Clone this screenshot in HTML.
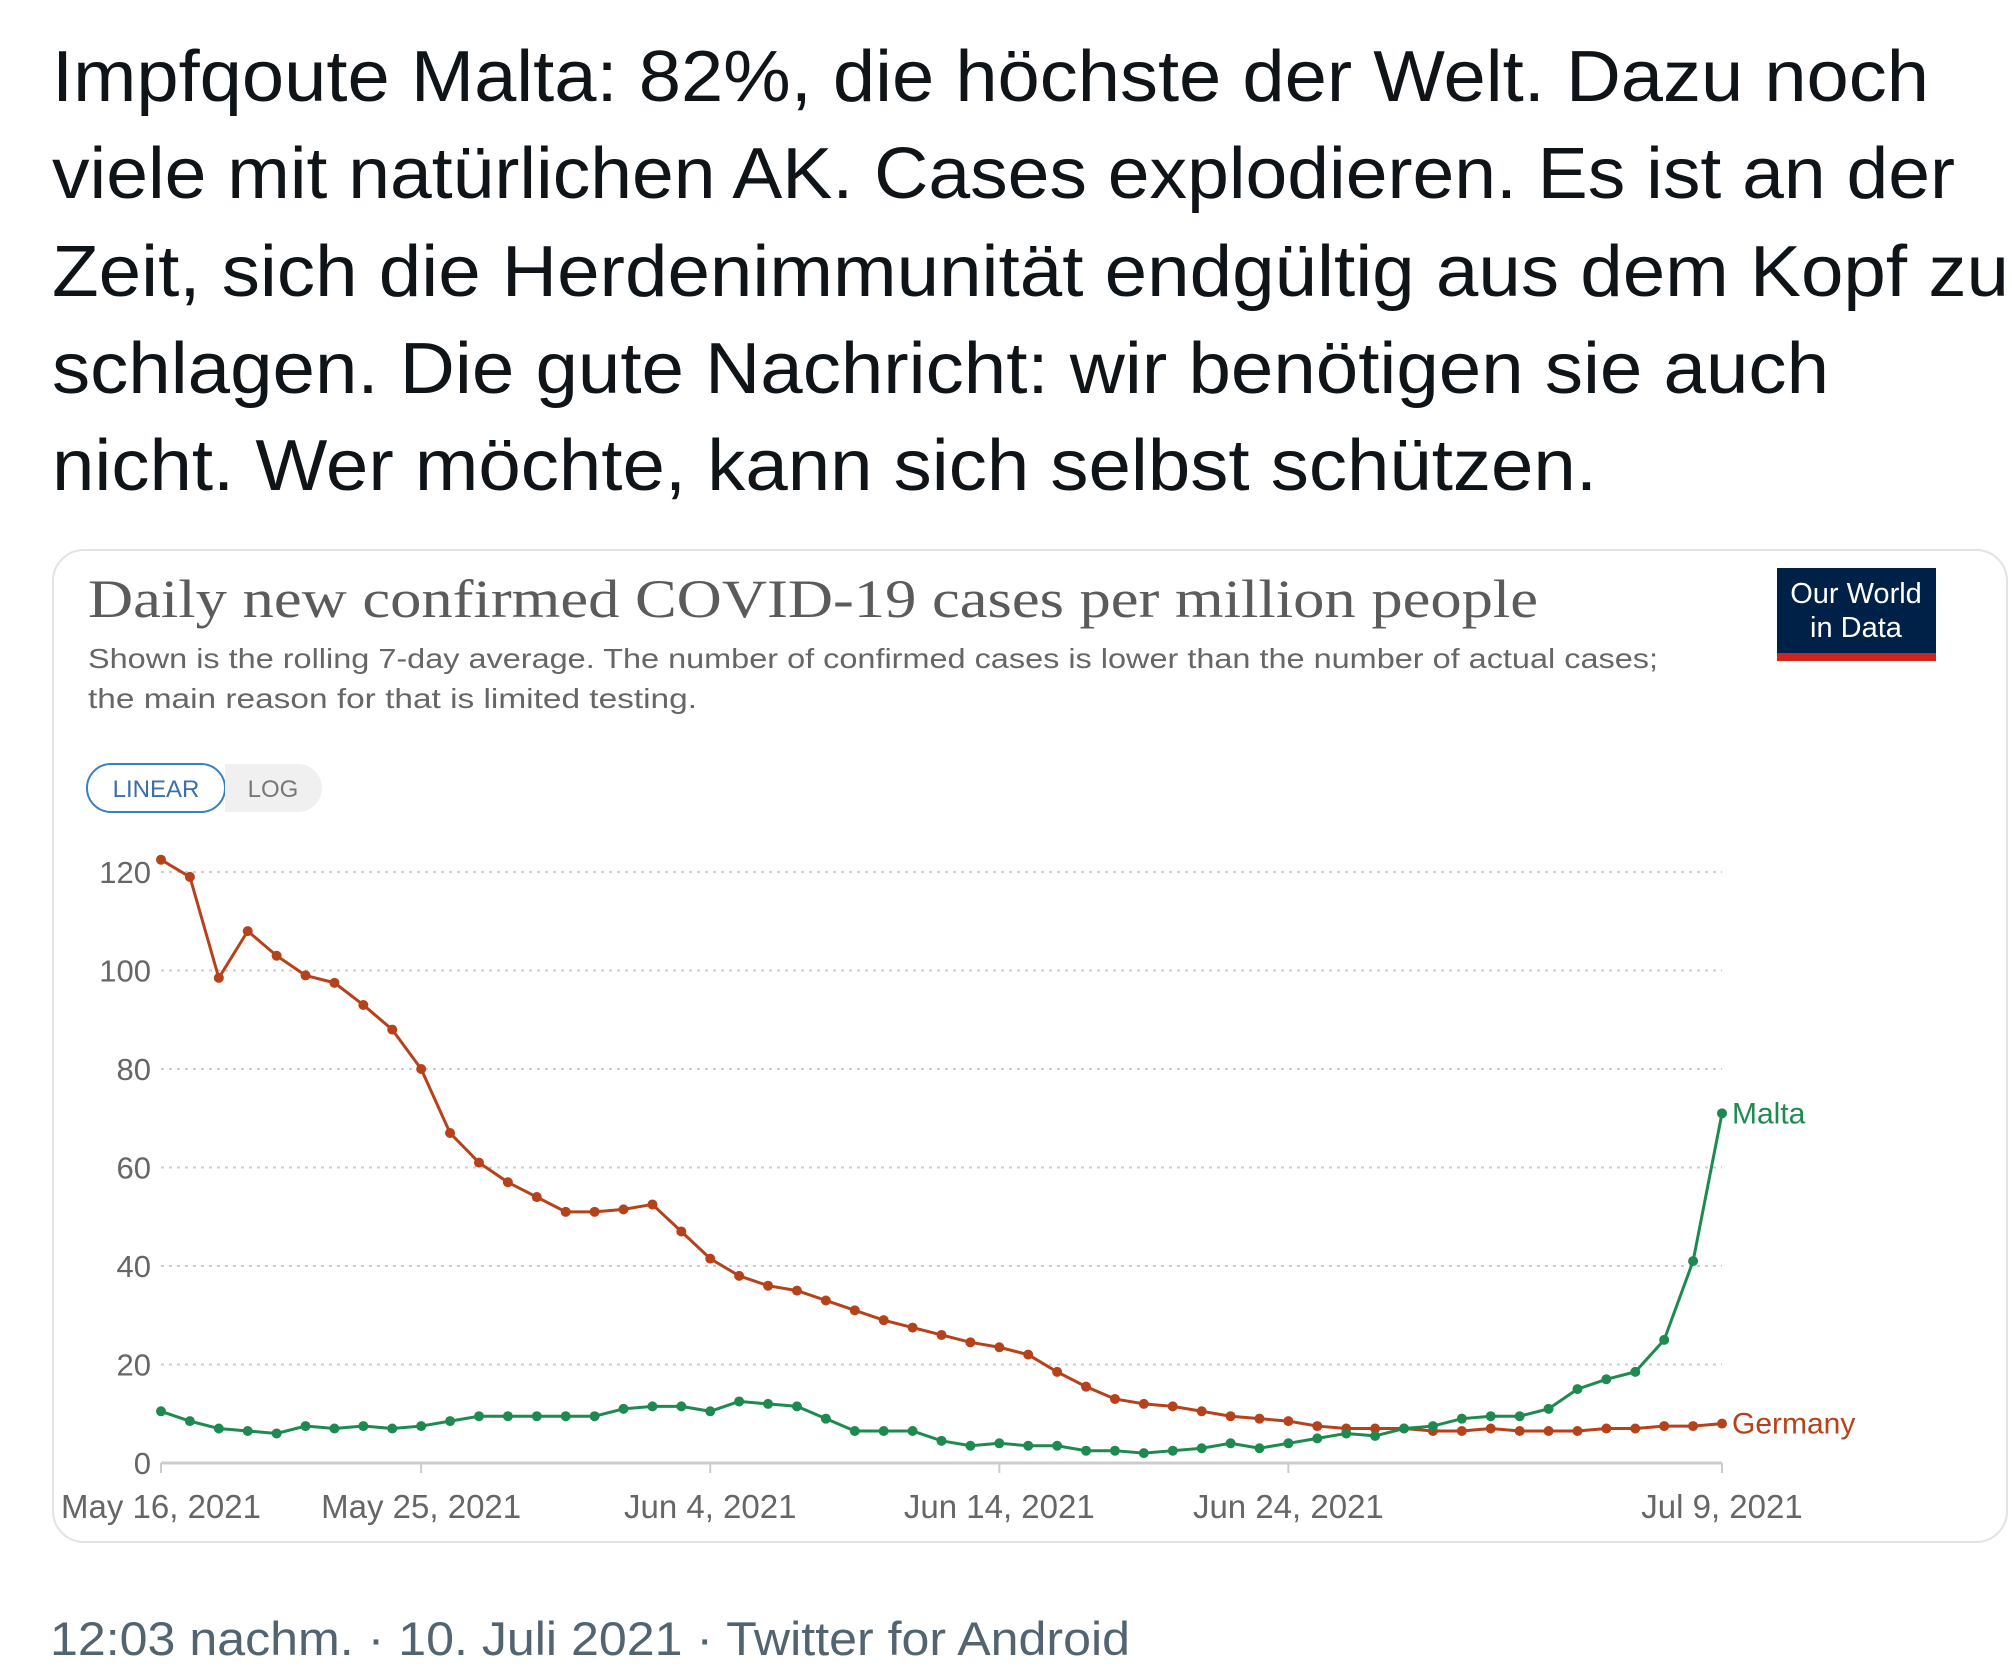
<!DOCTYPE html>
<html><head><meta charset="utf-8"><style>
body{margin:0;background:#fff;width:2012px;height:1676px;overflow:hidden;position:relative;font-family:"Liberation Sans",sans-serif}
.card{position:absolute;left:52px;top:549px;width:1956px;height:994px;border:2px solid #dfe4e8;border-radius:32px;box-sizing:border-box}
svg{position:absolute;left:0;top:0}
</style></head><body>
<div class="card"></div>
<svg id="chart" width="2012" height="1676">
<g font-size="72" fill="#0f1419">
<text x="52" y="101" textLength="1877" lengthAdjust="spacingAndGlyphs">Impfqoute Malta: 82%, die höchste der Welt. Dazu noch</text>
<text x="52" y="198" textLength="1903" lengthAdjust="spacingAndGlyphs">viele mit natürlichen AK. Cases explodieren. Es ist an der</text>
<text x="52" y="296" textLength="1957" lengthAdjust="spacingAndGlyphs">Zeit, sich die Herdenimmunität endgültig aus dem Kopf zu</text>
<text x="52" y="393" textLength="1777" lengthAdjust="spacingAndGlyphs">schlagen. Die gute Nachricht: wir benötigen sie auch</text>
<text x="52" y="490" textLength="1545" lengthAdjust="spacingAndGlyphs">nicht. Wer möchte, kann sich selbst schützen.</text>
</g>
<text x="50" y="1655" font-size="47" fill="#536471" textLength="1080" lengthAdjust="spacingAndGlyphs">12:03 nachm. · 10. Juli 2021 · Twitter for Android</text>
<text x="88" y="617" font-family="Liberation Serif,serif" font-size="54" fill="#5b5b5b" textLength="1450" lengthAdjust="spacingAndGlyphs">Daily new confirmed COVID-19 cases per million people</text>
<text x="88" y="668" font-size="28" fill="#666" textLength="1570" lengthAdjust="spacingAndGlyphs">Shown is the rolling 7-day average. The number of confirmed cases is lower than the number of actual cases;</text>
<text x="88" y="708" font-size="28" fill="#666" textLength="609" lengthAdjust="spacingAndGlyphs">the main reason for that is limited testing.</text>
<g>
<rect x="1777" y="568" width="159" height="86" fill="#002147"/>
<rect x="1777" y="653" width="159" height="8" fill="#ce261e"/>
<text x="1856" y="603" font-size="29" fill="#fff" text-anchor="middle">Our World</text>
<text x="1856" y="637" font-size="29" fill="#fff" text-anchor="middle">in Data</text>
</g>
<g>
<rect x="87" y="764" width="138" height="48" rx="24" fill="#fff" stroke="#3a7fc1" stroke-width="2"/>
<text x="156" y="797" font-size="24" fill="#3a6fa8" text-anchor="middle">LINEAR</text>
</g>
<g>
<path d="M225 764 H298 A24 24 0 0 1 298 812 H225 Z" fill="#f0f0f0"/>
<text x="273" y="797" font-size="24" fill="#777" text-anchor="middle">LOG</text>
</g>
<g id="plot"></g>
</svg>
<script>
const dates=["May 16","May 17","May 18","May 19","May 20","May 21","May 22","May 23","May 24","May 25","May 26","May 27","May 28","May 29","May 30","May 31","Jun 1","Jun 2","Jun 3","Jun 4","Jun 5","Jun 6","Jun 7","Jun 8","Jun 9","Jun 10","Jun 11","Jun 12","Jun 13","Jun 14","Jun 15","Jun 16","Jun 17","Jun 18","Jun 19","Jun 20","Jun 21","Jun 22","Jun 23","Jun 24","Jun 25","Jun 26","Jun 27","Jun 28","Jun 29","Jun 30","Jul 1","Jul 2","Jul 3","Jul 4","Jul 5","Jul 6","Jul 7","Jul 8","Jul 9"];
const germany=[122.5,119,98.5,108,103,99,97.5,93,88,80,67,61,57,54,51,51,51.5,52.5,47,41.5,38,36,35,33,31,29,27.5,26,24.5,23.5,22,18.5,15.5,13,12,11.5,10.5,9.5,9,8.5,7.5,7,7,7,6.5,6.5,7,6.5,6.5,6.5,7,7,7.5,7.5,8];
const malta=[10.5,8.5,7,6.5,6,7.5,7,7.5,7,7.5,8.5,9.5,9.5,9.5,9.5,9.5,11,11.5,11.5,10.5,12.5,12,11.5,9,6.5,6.5,6.5,4.5,3.5,4,3.5,3.5,2.5,2.5,2,2.5,3,4,3,4,5,6,5.5,7,7.5,9,9.5,9.5,11,15,17,18.5,25,41,71];
const yTicks=[0,20,40,60,80,100,120];
const xTickIdx=[0,9,19,29,39,54];
const xTickLabels=["May 16, 2021","May 25, 2021","Jun 4, 2021","Jun 14, 2021","Jun 24, 2021","Jul 9, 2021"];
const X0=161,X1=1722,Y0=1463,Y120=872;
const x=i=>X0+(X1-X0)*i/(dates.length-1);
const y=v=>Y0-(Y0-Y120)*v/120;
const NS="http://www.w3.org/2000/svg";
const g=document.getElementById('plot');
function mk(tag,attrs,parent){const e=document.createElementNS(NS,tag);for(const k in attrs)e.setAttribute(k,attrs[k]);(parent||g).appendChild(e);return e;}
yTicks.forEach(t=>{
  if(t>0){const l=mk('line',{x1:X0,x2:X1,y1:y(t),y2:y(t),stroke:'#ccc','stroke-width':2,'stroke-dasharray':'3 5'});
  
  }
  const tx=mk('text',{x:151,y:y(t)+11,'font-size':31,fill:'#666','text-anchor':'end'});tx.textContent=t;
  
  
});
const ax=mk('line',{x1:X0,x2:X1,y1:Y0,y2:Y0,stroke:'#ccc','stroke-width':3});


xTickIdx.forEach((ix,k)=>{
  mk('line',{x1:x(ix),x2:x(ix),y1:Y0,y2:Y0+10,stroke:'#ccc','stroke-width':2});
  const tx=mk('text',{x:x(ix),y:1518,'font-size':33,fill:'#666','text-anchor':'middle'});tx.textContent=xTickLabels[k];
  
  
});
function series(vals,color,name,label,dy){
  const grp=mk('g',{});
  
  
  const p=mk('polyline',{points:vals.map((v,i)=>x(i)+','+y(v)).join(' '),fill:'none',stroke:color,'stroke-width':3},grp);
  
  
  vals.forEach((v,i)=>{const c=mk('circle',{cx:x(i),cy:y(v),r:5,fill:color},grp);
    
    });
  const t=mk('text',{x:x(vals.length-1)+10,y:y(vals[vals.length-1])+dy,'font-size':30,fill:color},grp);t.textContent=label;
  
  
}
series(germany,'#b5421b','germany','Germany',10);
series(malta,'#1f8a50','malta','Malta',10);
</script>
</body></html>
